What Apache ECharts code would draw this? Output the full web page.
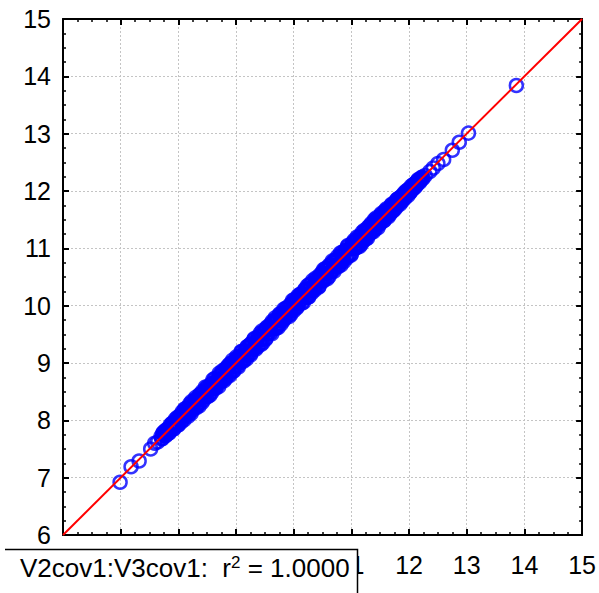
<!DOCTYPE html>
<html>
<head>
<meta charset="utf-8">
<script src="https://cdn.jsdelivr.net/npm/echarts@6/dist/echarts.min.js"></script>
<style>
html,body{margin:0;padding:0;background:#fff;}
#chart{width:599px;height:593px;}
</style>
</head>
<body>
<div id="chart"></div>
<script>
// Axis ticks
const axisMin = 6;
const axisMax = 15;
const tickStep = 1;

// Sparse low-end points (V2cov1, V3cov1)
const lowX = [6.99, 7.18, 7.32, 7.52, 7.59, 7.64];
const lowY = [6.92, 7.19, 7.29, 7.50, 7.60, 7.62];

// Dense middle points (set A)
const midX = [
  7.70,7.72,7.74,7.76,7.78,7.80,7.82,7.84,7.86,7.88,
  7.90,7.92,7.94,7.96,7.98,8.00,8.02,8.04,8.06,8.08,
  8.10,8.12,8.14,8.16,8.18,8.20,8.22,8.24,8.26,8.28,
  8.30,8.32,8.34,8.36,8.38,8.40,8.42,8.44,8.46,8.48,
  8.50,8.52,8.54,8.56,8.58,8.60,8.62,8.64,8.66,8.68,
  8.70,8.72,8.74,8.76,8.78,8.80,8.82,8.84,8.86,8.88,
  8.90,8.92,8.94,8.96,8.98,9.00,9.02,9.04,9.06,9.08,
  9.10,9.12,9.14,9.16,9.18,9.20,9.22,9.24,9.26,9.28,
  9.30,9.32,9.34,9.36,9.38,9.40,9.42,9.44,9.46,9.48,
  9.50,9.52,9.54,9.56,9.58,9.60,9.62,9.64,9.66,9.68,
  9.70,9.72,9.74,9.76,9.78,9.80,9.82,9.84,9.86,9.88,
  9.90,9.92,9.94,9.96,9.98,10.00,10.02,10.04,10.06,10.08,
  10.10,10.12,10.14,10.16,10.18,10.20,10.22,10.24,10.26,10.28,
  10.30,10.32,10.34,10.36,10.38,10.40,10.42,10.44,10.46,10.48,
  10.50,10.52,10.54,10.56,10.58,10.60,10.62,10.64,10.66,10.68,
  10.70,10.72,10.74,10.76,10.78,10.80,10.82,10.84,10.86,10.88,
  10.90,10.92,10.94,10.96,10.98,11.00,11.02,11.04,11.06,11.08,
  11.10,11.12,11.14,11.16,11.18,11.20,11.22,11.24,11.26,11.28,
  11.30,11.32,11.34,11.36,11.38,11.40,11.42,11.44,11.46,11.48,
  11.50,11.52,11.54,11.56,11.58,11.60,11.62,11.64,11.66,11.68,
  11.70,11.72,11.74,11.76,11.78,11.80,11.82,11.84,11.86,11.88,
  11.90,11.92,11.94,11.96,11.98,12.00,12.02,12.04,12.06,12.08,
  12.10,12.12,12.14,12.16,12.18,12.20,12.22,12.24
];
const midY = [
  7.72,7.68,7.79,7.74,7.73,7.84,7.82,7.78,7.92,7.85,
  7.95,7.85,7.96,7.92,8.05,7.92,8.03,8.10,8.01,8.11,
  8.01,8.20,8.12,8.20,8.12,8.29,8.12,8.24,8.32,8.24,
  8.40,8.25,8.35,8.25,8.45,8.39,8.51,8.36,8.50,8.43,
  8.58,8.42,8.55,8.62,8.49,8.71,8.59,8.57,8.71,8.70,
  8.59,8.79,8.70,8.86,8.72,8.83,8.73,8.92,8.85,8.80,
  8.99,8.87,9.05,8.86,9.02,8.98,9.09,8.93,9.12,9.01,
  9.20,9.12,9.06,9.21,9.07,9.29,9.18,9.32,9.17,9.31,
  9.24,9.43,9.24,9.38,9.45,9.33,9.52,9.41,9.35,9.54,
  9.54,9.43,9.63,9.51,9.59,9.68,9.51,9.69,9.64,9.79,
  9.62,9.75,9.68,9.86,9.68,9.87,9.82,9.77,9.95,9.84,
  9.96,9.81,10.02,9.93,10.09,9.91,10.04,10.09,9.98,10.18,
  10.05,10.19,10.04,10.20,10.17,10.29,10.15,10.35,10.15,10.31,
  10.38,10.26,10.35,10.27,10.48,10.36,10.48,10.34,10.51,10.46,
  10.42,10.63,10.49,10.63,10.47,10.63,10.71,10.57,10.66,10.76,
  10.60,10.76,10.71,10.86,10.70,10.86,10.71,10.93,10.82,10.90,
  10.97,10.83,11.05,10.90,11.01,10.90,11.10,11.02,11.11,11.01,
  11.20,11.08,11.03,11.22,11.19,11.12,11.31,11.19,11.33,11.18,
  11.34,11.40,11.27,11.38,11.29,11.50,11.39,11.50,11.36,11.53,
  11.44,11.61,11.52,11.48,11.65,11.56,11.68,11.55,11.69,11.63,
  11.77,11.65,11.76,11.81,11.72,11.86,11.79,11.77,11.90,11.89,
  11.85,11.97,11.92,11.99,11.92,12.03,11.98,12.09,12.03,12.10,
  12.06,12.15,12.12,12.20,12.15,12.21,12.24,12.22
];

// Dense middle points (set B)
const midX2 = [
  7.71,7.73,7.75,7.77,7.79,7.81,7.83,7.85,7.87,7.89,
  7.91,7.93,7.95,7.97,7.99,8.01,8.03,8.05,8.07,8.09,
  8.11,8.13,8.15,8.17,8.19,8.21,8.23,8.25,8.27,8.29,
  8.31,8.33,8.35,8.37,8.39,8.41,8.43,8.45,8.47,8.49,
  8.51,8.53,8.55,8.57,8.59,8.61,8.63,8.65,8.67,8.69,
  8.71,8.73,8.75,8.77,8.79,8.81,8.83,8.85,8.87,8.89,
  8.91,8.93,8.95,8.97,8.99,9.01,9.03,9.05,9.07,9.09,
  9.11,9.13,9.15,9.17,9.19,9.21,9.23,9.25,9.27,9.29,
  9.31,9.33,9.35,9.37,9.39,9.41,9.43,9.45,9.47,9.49,
  9.51,9.53,9.55,9.57,9.59,9.61,9.63,9.65,9.67,9.69,
  9.71,9.73,9.75,9.77,9.79,9.81,9.83,9.85,9.87,9.89,
  9.91,9.93,9.95,9.97,9.99,10.01,10.03,10.05,10.07,10.09,
  10.11,10.13,10.15,10.17,10.19,10.21,10.23,10.25,10.27,10.29,
  10.31,10.33,10.35,10.37,10.39,10.41,10.43,10.45,10.47,10.49,
  10.51,10.53,10.55,10.57,10.59,10.61,10.63,10.65,10.67,10.69,
  10.71,10.73,10.75,10.77,10.79,10.81,10.83,10.85,10.87,10.89,
  10.91,10.93,10.95,10.97,10.99,11.01,11.03,11.05,11.07,11.09,
  11.11,11.13,11.15,11.17,11.19,11.21,11.23,11.25,11.27,11.29,
  11.31,11.33,11.35,11.37,11.39,11.41,11.43,11.45,11.47,11.49,
  11.51,11.53,11.55,11.57,11.59,11.61,11.63,11.65,11.67,11.69,
  11.71,11.73,11.75,11.77,11.79,11.81,11.83,11.85,11.87,11.89,
  11.91,11.93,11.95,11.97,11.99,12.01,12.03,12.05,12.07,12.09,
  12.11,12.13,12.15,12.17,12.19,12.21,12.23
];
const midY2 = [
  7.68,7.77,7.74,7.82,7.75,7.83,7.78,7.88,7.87,7.95,
  7.85,7.94,8.02,7.94,7.92,8.06,8.05,7.97,8.15,8.08,
  8.20,8.08,8.18,8.07,8.25,8.19,8.33,8.18,8.28,8.36,
  8.22,8.37,8.29,8.45,8.39,8.31,8.48,8.42,8.58,8.41,
  8.57,8.52,8.44,8.64,8.60,8.55,8.73,8.56,8.69,8.65,
  8.82,8.66,8.80,8.75,8.69,8.89,8.78,8.86,8.96,8.78,
  8.94,9.00,8.86,9.02,8.95,9.11,8.95,9.07,9.01,9.20,
  9.07,9.03,9.21,9.16,9.28,9.14,9.27,9.14,9.35,9.26,
  9.41,9.27,9.37,9.28,9.46,9.41,9.32,9.56,9.43,9.54,
  9.41,9.61,9.52,9.63,9.52,9.62,9.73,9.60,9.74,9.60,
  9.75,9.62,9.84,9.75,9.84,9.73,9.94,9.79,9.89,9.97,
  9.84,9.96,9.85,10.04,9.95,10.11,10.02,9.96,10.13,10.04,
  10.20,10.11,10.20,10.06,10.27,10.15,10.26,10.15,10.37,10.28,
  10.22,10.44,10.31,10.43,10.32,10.43,10.32,10.53,10.45,10.58,
  10.56,10.45,10.65,10.56,10.63,10.51,10.70,10.60,10.78,10.63,
  10.79,10.70,10.81,10.68,10.80,10.92,10.77,10.88,10.77,10.96,
  10.86,11.03,10.87,10.99,10.88,11.07,11.01,11.14,11.00,11.13,
  11.03,11.20,11.14,11.07,11.28,11.17,11.28,11.16,11.29,11.37,
  11.25,11.34,11.44,11.32,11.45,11.33,11.53,11.43,11.51,11.42,
  11.58,11.49,11.60,11.49,11.61,11.69,11.57,11.68,11.60,11.75,
  11.66,11.77,11.68,11.80,11.85,11.77,11.88,11.83,11.81,11.93,
  11.94,11.88,12.00,11.95,12.03,11.97,12.05,12.02,12.11,12.07,
  12.13,12.10,12.18,12.16,12.21,12.19,12.24
];

// Sparse high-end points
const highX = [12.28, 12.36, 12.42, 12.50, 12.60, 12.75, 12.87, 13.03, 13.86];
const highY = [12.27, 12.34, 12.40, 12.48, 12.55, 12.71, 12.85, 13.01, 13.84];

// Fit line (r^2 = 1.0000)
const fitLine = [[6, 6], [15, 15]];
const legendLabel = 'V2cov1:V3cov1:';
const r2Value = '1.0000';

const allX = lowX.concat(midX, midX2, highX);
const allY = lowY.concat(midY, midY2, highY);
const scatterData = allX.map((x, i) => [x, allY[i]]);

const FONT = 'Arial, "Liberation Sans", sans-serif';

function makeAxis(pos, showLabel, showSplit, labelMargin) {
  return {
    type: 'value',
    position: pos,
    min: axisMin,
    max: axisMax,
    interval: tickStep,
    axisLine: { show: true, onZero: false, lineStyle: { color: '#000', width: 2 } },
    axisTick: { show: true, inside: true, length: 6, lineStyle: { color: '#000', width: 2 } },
    minorTick: { show: true, splitNumber: 4, length: 3, lineStyle: { color: '#000', width: 1.5 } },
    axisLabel: {
      show: showLabel, fontSize: 25, color: '#000', fontFamily: FONT, margin: labelMargin,
      formatter: function (v) { return (pos === 'bottom' && v < 11) ? '' : String(v); }
    },
    splitLine: { show: showSplit, lineStyle: { color: '#c4c4c4', width: 1, type: [2, 2] } },
    minorSplitLine: { show: false }
  };
}

const chart = echarts.init(document.getElementById('chart'), null, { renderer: 'svg' });
chart.setOption({
  animation: false,
  backgroundColor: '#fff',
  grid: { left: 63, right: 16, top: 19, bottom: 58, containLabel: false },
  xAxis: [makeAxis('bottom', true, true, 17), makeAxis('top', false, false, 8)],
  yAxis: [makeAxis('left', true, true, 12), makeAxis('right', false, false, 8)],
  series: [
    {
      type: 'scatter',
      xAxisIndex: 0, yAxisIndex: 0,
      data: scatterData,
      symbol: 'circle',
      symbolSize: 13,
      itemStyle: { color: 'rgba(0,0,0,0)', borderColor: '#0000ff', borderWidth: 2.5 },
      emphasis: { disabled: true },
      silent: true
    },
    {
      type: 'line',
      xAxisIndex: 0, yAxisIndex: 0,
      data: fitLine,
      showSymbol: false,
      symbol: 'none',
      lineStyle: { color: '#ff0000', width: 2 },
      silent: true
    }
  ],
  graphic: [
    {
      type: 'rect', z: 100,
      shape: { x: 0, y: 549, width: 357, height: 50 },
      style: { fill: '#fff', stroke: null }
    },
    {
      type: 'polyline', z: 101,
      shape: { points: [[5, 549.5], [357.5, 549.5], [357.5, 600]] },
      style: { stroke: '#000', lineWidth: 1.5, fill: null }
    },
    {
      type: 'text', z: 102,
      left: 20, top: 554,
      style: {
        text: '{a|' + legendLabel + '  r}{s|2}{a| = ' + r2Value + '}',
        rich: {
          a: { fontSize: 26, fontFamily: FONT, fill: '#000', verticalAlign: 'bottom' },
          s: { fontSize: 17, fontFamily: FONT, fill: '#000', verticalAlign: 'top', padding: [0, 0, 10, 0] }
        },
        fill: '#000'
      }
    }
  ]
});
</script>
</body>
</html>
